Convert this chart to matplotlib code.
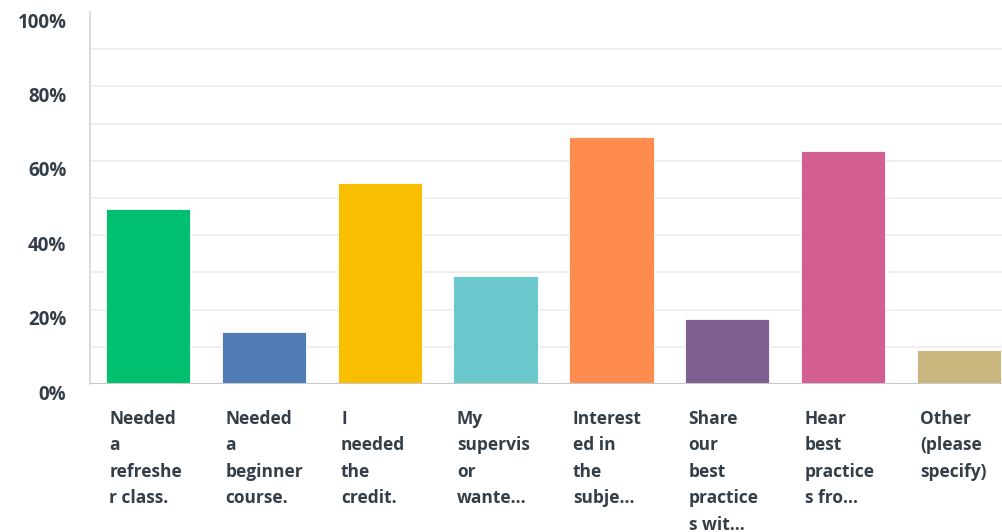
import matplotlib.pyplot as plt
from matplotlib.transforms import ScaledTranslation, blended_transform_factory

# answer options, wrapped the way the survey tool shows them
labels = [
    "Needed\na\nrefreshe\nr class.",
    "Needed\na\nbeginner\ncourse.",
    "I\nneeded\nthe\ncredit.",
    "My\nsupervis\nor\nwante...",
    "Interest\ned in\nthe\nsubje...",
    "Share\nour\nbest\npractice\ns wit...",
    "Hear\nbest\npractice\ns fro...",
    "Other\n(please\nspecify)",
]
percent = [47.1, 14.1, 54.1, 29.1, 66.3, 17.6, 62.7, 9.1]
colors = ["#00BF6F", "#507CB6", "#F9BE00", "#6BC8CD",
          "#FF8B4F", "#7F5F90", "#D25F90", "#C9B77D"]
yticks = [0, 20, 40, 60, 80, 100]

txt_color = "#333e48"
font = "Open Sans"

fig = plt.figure(figsize=(10.03, 5.32), dpi=100)
# axes runs past the right edge, the original screenshot is cropped
ax = fig.add_axes([90 / 1003, 148 / 532, 927 / 1003, 372 / 532])

x = list(range(len(percent)))
ax.bar(x, percent, width=0.726, color=colors, edgecolor="white", linewidth=0.6, zorder=3)
ax.set_xlim(-0.5, 7.5)
ax.set_ylim(0, 100)

# gridlines every 10%, none at the top
for g in range(10, 100, 10):
    ax.axhline(g, color="#ececec", lw=1.2, zorder=1)
ax.axhline(0, color="#c8c8c8", lw=1.5, zorder=4)

for s in ["top", "right", "bottom"]:
    ax.spines[s].set_visible(False)
ax.spines["left"].set_color("#d6d6d6")
ax.spines["left"].set_linewidth(1.2)

ax.set_xticks([])
ax.set_yticks(yticks)
ax.set_yticklabels([f"{t}%" for t in yticks], fontsize=13.5, color=txt_color,
                   fontfamily=font, fontweight="bold")
ax.tick_params(axis="y", length=0, pad=17)
for lbl in ax.get_yticklabels():
    lbl.set_transform(lbl.get_transform() + ScaledTranslation(0, -0.08, fig.dpi_scale_trans))

trans = blended_transform_factory(ax.transData, fig.transFigure)
for i, lab in enumerate(labels):
    ax.text(i - 0.363 + 0.03, 1 - 410 / 532, lab, transform=trans, ha="left", va="top",
            fontsize=12.5, color=txt_color, fontfamily=font, fontweight="bold",
            linespacing=1.6, clip_on=False)

fig.savefig("out.png", dpi=100)
